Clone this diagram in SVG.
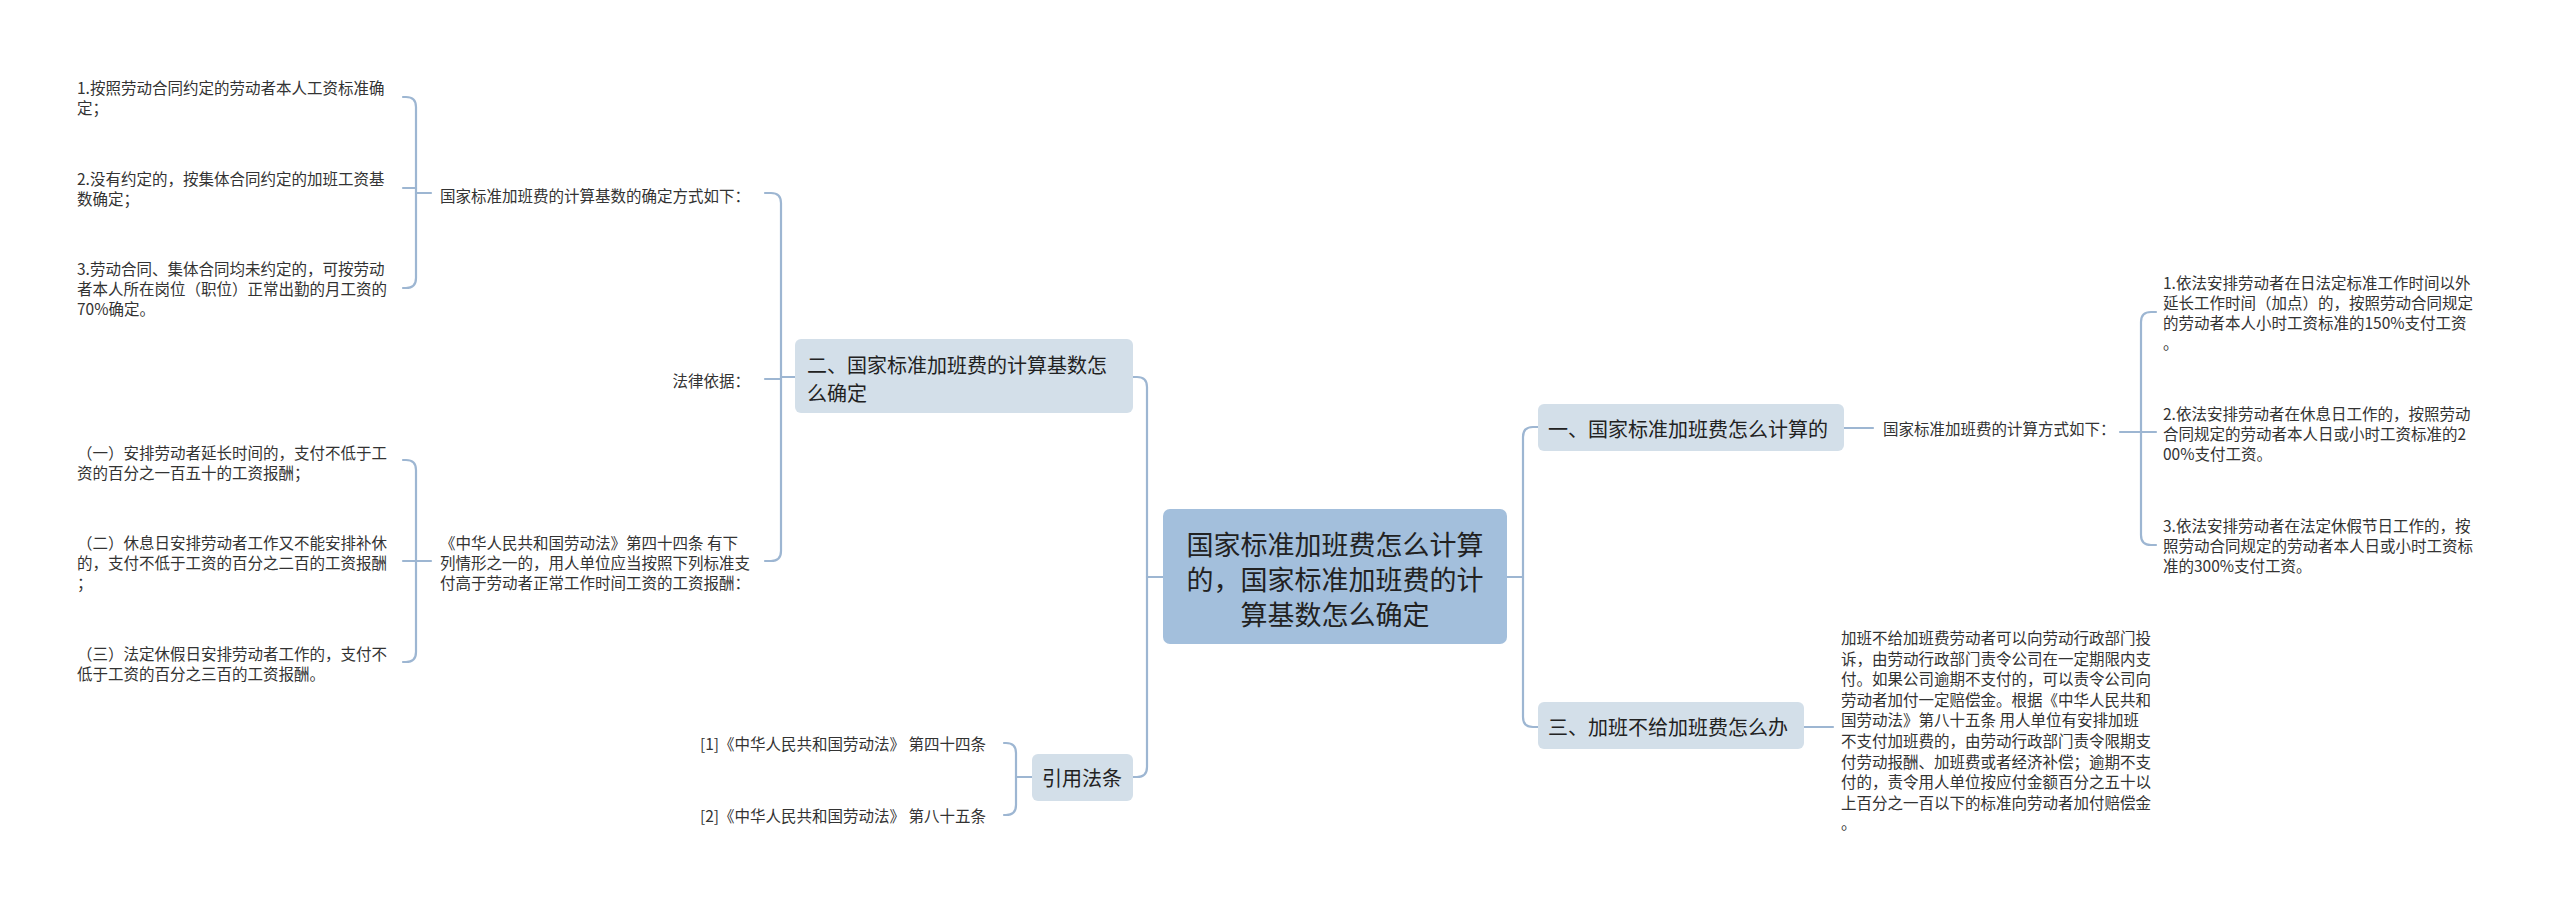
<svg xmlns="http://www.w3.org/2000/svg" width="2560" height="905" viewBox="0 0 2560 905">
<style>
.conn{fill:none;stroke:#9db6d2;stroke-width:2.2;stroke-linecap:round}
.t{font-family:"Noto Sans CJK SC","Noto Sans",sans-serif;font-size:15.5px;fill:#333;dominant-baseline:central}
.n{font-family:"Noto Sans CJK SC","Noto Sans",sans-serif;font-size:20px;fill:#222;dominant-baseline:central}
.r{font-family:"Noto Sans CJK SC","Noto Sans",sans-serif;font-size:27px;fill:#222;dominant-baseline:central;text-anchor:middle}
.sub{fill:#d3dfe9}
.root{fill:#a3bfdc}
</style>
<rect width="2560" height="905" fill="#ffffff"/>
<g id="connectors">
<path class="conn" d="M1163,577 H1147"/>
<path class="conn" d="M1133,377 H1137 Q1147,377 1147,387 V767 Q1147,777 1137,777 H1133"/>
<path class="conn" d="M1507,577 H1523"/>
<path class="conn" d="M1538,427 H1533 Q1523,427 1523,437 V717 Q1523,727 1533,727 H1538"/>
<path class="conn" d="M795,377 H781"/>
<path class="conn" d="M765,193 H771 Q781,193 781,203 V551 Q781,561 771,561 H765"/>
<path class="conn" d="M765,379 H781"/>
<path class="conn" d="M403,97 H406 Q416,97 416,107 V278 Q416,288 406,288 H403"/>
<path class="conn" d="M403,188 H416"/>
<path class="conn" d="M416,193 H431"/>
<path class="conn" d="M403,460 H406 Q416,460 416,470 V652 Q416,662 406,662 H403"/>
<path class="conn" d="M403,561 H431"/>
<path class="conn" d="M1844,428 H1873"/>
<path class="conn" d="M2156,312 H2151 Q2141,312 2141,322 V535 Q2141,545 2151,545 H2156"/>
<path class="conn" d="M2120,432 H2156"/>
<path class="conn" d="M1804,727 H1833"/>
<path class="conn" d="M1032,777 H1016"/>
<path class="conn" d="M1004,743 H1006 Q1016,743 1016,753 V805 Q1016,815 1006,815 H1004"/>
</g>
<g id="root">
<rect class="root" x="1163" y="509" width="344" height="135" rx="7"/>
<text class="r" x="1335" y="543">国家标准加班费怎么计算</text>
<text class="r" x="1335" y="578">的，国家标准加班费的计</text>
<text class="r" x="1335" y="613">算基数怎么确定</text>
</g>
<g id="node-2">
<rect class="sub" x="795" y="339" width="338" height="74" rx="6"/>
<text class="n" x="807" y="364">二、国家标准加班费的计算基数怎</text>
<text class="n" x="807" y="392">么确定</text>
</g>
<g id="node-1">
<rect class="sub" x="1538" y="404" width="306" height="47" rx="6"/>
<text class="n" x="1548" y="428">一、国家标准加班费怎么计算的</text>
</g>
<g id="node-3">
<rect class="sub" x="1538" y="702" width="266" height="47" rx="6"/>
<text class="n" x="1548" y="726">三、加班不给加班费怎么办</text>
</g>
<g id="node-cite">
<rect class="sub" x="1032" y="754" width="101" height="47" rx="6"/>
<text class="n" x="1082" y="777" text-anchor="middle">引用法条</text>
</g>
<g id="node-2-basis">
<text class="t" x="440" y="195">国家标准加班费的计算基数的确定方式如下：</text>
</g>
<g id="node-2-basis-1">
<text class="t" x="77" y="87">1.按照劳动合同约定的劳动者本人工资标准确</text>
<text class="t" x="77" y="107">定；</text>
</g>
<g id="node-2-basis-2">
<text class="t" x="77" y="178">2.没有约定的，按集体合同约定的加班工资基</text>
<text class="t" x="77" y="198">数确定；</text>
</g>
<g id="node-2-basis-3">
<text class="t" x="77" y="268">3.劳动合同、集体合同均未约定的，可按劳动</text>
<text class="t" x="77" y="288">者本人所在岗位（职位）正常出勤的月工资的</text>
<text class="t" x="77" y="308">70%确定。</text>
</g>
<g id="node-2-law">
<text class="t" x="750" y="380" text-anchor="end">法律依据：</text>
</g>
<g id="node-2-art44">
<text class="t" x="440" y="542">《中华人民共和国劳动法》第四十四条 有下</text>
<text class="t" x="440" y="562">列情形之一的，用人单位应当按照下列标准支</text>
<text class="t" x="440" y="582">付高于劳动者正常工作时间工资的工资报酬：</text>
</g>
<g id="node-2-art44-1">
<text class="t" x="77" y="452">（一）安排劳动者延长时间的，支付不低于工</text>
<text class="t" x="77" y="472">资的百分之一百五十的工资报酬；</text>
</g>
<g id="node-2-art44-2">
<text class="t" x="77" y="542">（二）休息日安排劳动者工作又不能安排补休</text>
<text class="t" x="77" y="562">的，支付不低于工资的百分之二百的工资报酬</text>
<text class="t" x="77" y="582">；</text>
</g>
<g id="node-2-art44-3">
<text class="t" x="77" y="653">（三）法定休假日安排劳动者工作的，支付不</text>
<text class="t" x="77" y="673">低于工资的百分之三百的工资报酬。</text>
</g>
<g id="node-1-calc">
<text class="t" x="1883" y="428">国家标准加班费的计算方式如下：</text>
</g>
<g id="node-1-calc-1">
<text class="t" x="2163" y="282">1.依法安排劳动者在日法定标准工作时间以外</text>
<text class="t" x="2163" y="302">延长工作时间（加点）的，按照劳动合同规定</text>
<text class="t" x="2163" y="322">的劳动者本人小时工资标准的150%支付工资</text>
<text class="t" x="2163" y="342">。</text>
</g>
<g id="node-1-calc-2">
<text class="t" x="2163" y="413">2.依法安排劳动者在休息日工作的，按照劳动</text>
<text class="t" x="2163" y="433">合同规定的劳动者本人日或小时工资标准的2</text>
<text class="t" x="2163" y="453">00%支付工资。</text>
</g>
<g id="node-1-calc-3">
<text class="t" x="2163" y="525">3.依法安排劳动者在法定休假节日工作的，按</text>
<text class="t" x="2163" y="545">照劳动合同规定的劳动者本人日或小时工资标</text>
<text class="t" x="2163" y="565">准的300%支付工资。</text>
</g>
<g id="node-3-text">
<text class="t" x="1841" y="637">加班不给加班费劳动者可以向劳动行政部门投</text>
<text class="t" x="1841" y="657.6">诉，由劳动行政部门责令公司在一定期限内支</text>
<text class="t" x="1841" y="678.2">付。如果公司逾期不支付的，可以责令公司向</text>
<text class="t" x="1841" y="698.8">劳动者加付一定赔偿金。根据《中华人民共和</text>
<text class="t" x="1841" y="719.4">国劳动法》第八十五条 用人单位有安排加班</text>
<text class="t" x="1841" y="740">不支付加班费的，由劳动行政部门责令限期支</text>
<text class="t" x="1841" y="760.6">付劳动报酬、加班费或者经济补偿；逾期不支</text>
<text class="t" x="1841" y="781.2">付的，责令用人单位按应付金额百分之五十以</text>
<text class="t" x="1841" y="801.8">上百分之一百以下的标准向劳动者加付赔偿金</text>
<text class="t" x="1841" y="822.4">。</text>
</g>
<g id="node-cite-1">
<text class="t" x="700" y="743">[1]《中华人民共和国劳动法》 第四十四条</text>
</g>
<g id="node-cite-2">
<text class="t" x="700" y="815">[2]《中华人民共和国劳动法》 第八十五条</text>
</g>
</svg>
